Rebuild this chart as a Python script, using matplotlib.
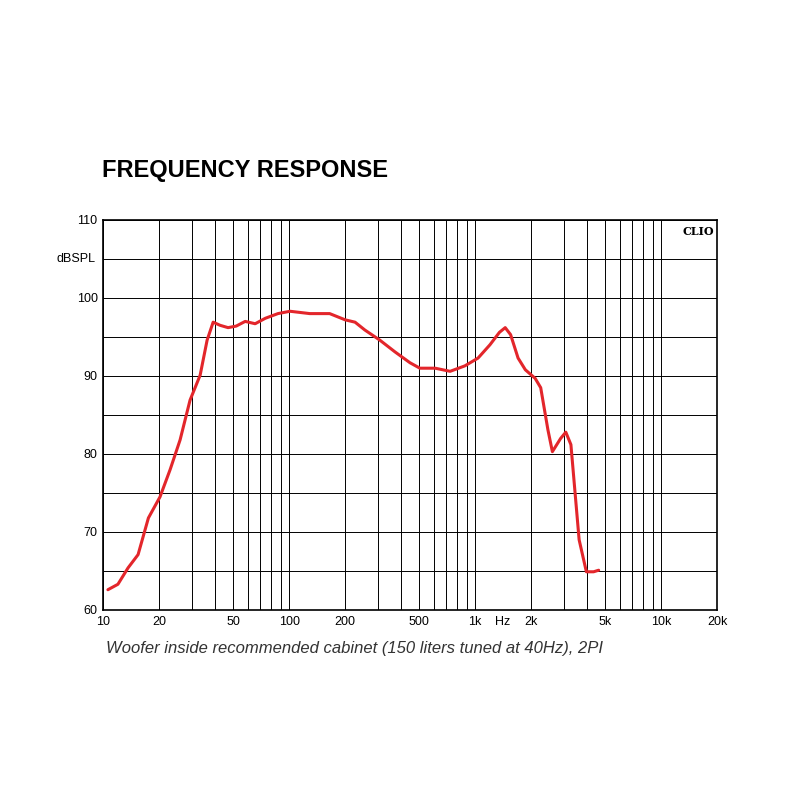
import matplotlib.pyplot as plt
from matplotlib.ticker import FixedLocator, NullFormatter

plt.rcParams["font.family"] = ["Liberation Sans", "DejaVu Sans"]

# values
freq_hz = [10.6, 12.0, 13.6, 15.4, 17.5, 20.2, 22.9, 25.9, 29.3, 33.2, 36.2, 39.0,
           42.5, 46.9, 51.9, 58, 65.6, 74.4, 87, 101, 129, 165, 200, 226, 255, 307,
           370, 446, 504, 609, 733, 880, 1036, 1200, 1350, 1450, 1550, 1700, 1860,
           2100, 2250, 2460, 2600, 2880, 3070, 3270, 3620, 3960, 4330, 4610]
spl_db = [62.6, 63.3, 65.4, 67.1, 71.8, 74.5, 78.0, 81.8, 86.9, 90.1, 94.6, 96.9,
          96.5, 96.2, 96.4, 97.0, 96.7, 97.4, 98.0, 98.3, 98.0, 98.0, 97.2, 96.9, 95.9, 94.6,
          93.1, 91.7, 91.0, 91.0, 90.6, 91.3, 92.3, 94.0, 95.6, 96.2, 95.3, 92.3, 90.8,
          89.7, 88.5, 83.1, 80.3, 82.0, 82.8, 81.2, 69.0, 64.9, 64.9, 65.1]

x_ticks = [10, 20, 50, 100, 200, 500, 1000, 1400, 2000, 5000, 10000, 20000]
x_labels = ["10", "20", "50", "100", "200", "500", "1k", "Hz", "2k", "5k", "10k", "20k"]
y_ticks = [60, 70, 80, 90, 100, 110]

grid_x = [m * 10 ** e for e in range(1, 5) for m in range(1, 10)] + [20000]

fig = plt.figure(figsize=(8, 8), dpi=100)
ax = fig.add_axes([0.129, 0.2375, 0.7675, 0.4875])
ax.set_xscale("log")
ax.set_xlim(10, 20000)
ax.set_ylim(60, 110)

for g in grid_x:
    ax.axvline(g, color="black", lw=0.7)
for g in range(60, 111, 5):
    ax.axhline(g, color="black", lw=0.7)

ax.plot(freq_hz, spl_db, color="#e3262b", lw=2.2, solid_capstyle="round")

ax.xaxis.set_major_locator(FixedLocator(x_ticks))
ax.set_xticklabels(x_labels)
ax.xaxis.set_minor_formatter(NullFormatter())
ax.set_yticks(y_ticks)
ax.tick_params(length=0, labelsize=9, pad=4)
ax.tick_params(which="minor", length=0)
for s in ax.spines.values():
    s.set_linewidth(1.2)

ax.text(-0.012, 105, "dBSPL", transform=ax.get_yaxis_transform(), ha="right", va="center", fontsize=9)
ax.text(0.995, 0.985, "CLIO", transform=ax.transAxes, ha="right", va="top",
        fontsize=8, fontweight="bold", family="DejaVu Serif")

fig.text(0.128, 0.787, "FREQUENCY RESPONSE", fontsize=17, fontweight="bold", va="center")
fig.text(0.133, 0.19, "Woofer inside recommended cabinet (150 liters tuned at 40Hz), 2PI",
         fontsize=12, style="italic", color="#333333", va="center")

fig.savefig("out.png")
